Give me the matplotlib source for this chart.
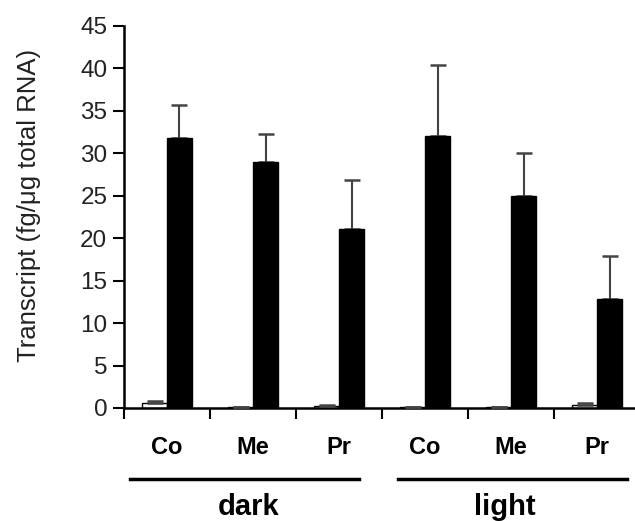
import matplotlib
matplotlib.use("Agg")
import matplotlib.pyplot as plt
import matplotlib.transforms as mtransforms
from matplotlib.lines import Line2D

plt.rcParams['font.family'] = ['Liberation Sans', 'DejaVu Sans']

categories = ["Co", "Me", "Pr", "Co", "Me", "Pr"]
groups = ["dark", "light"]
white_vals = [0.55, 0.1, 0.2, 0.1, 0.1, 0.35]
white_err = [0.25, 0.0, 0.1, 0.0, 0.0, 0.25]
black_vals = [31.8, 29.0, 21.1, 32.0, 25.0, 12.8]
black_err = [3.9, 3.3, 5.8, 8.4, 5.0, 5.1]
yticks = [0, 5, 10, 15, 20, 25, 30, 35, 40, 45]

W, H = 635, 521
fig = plt.figure(figsize=(W / 100, H / 100), dpi=100)
ax = fig.add_axes([124 / W, (H - 408) / H, (W - 124) / W, (408 - 26) / H])

x = list(range(len(categories)))
bw = 0.29
xw = [i - 0.145 for i in x]
xb = [i + 0.145 for i in x]

ax.bar(xw, white_vals, width=bw, color="white", edgecolor="black", linewidth=1.0, zorder=2)
ax.bar(xb, black_vals, width=bw, color="black", edgecolor="black", linewidth=1.0, zorder=2)
ax.errorbar(xw, white_vals, yerr=[[0] * len(x), white_err], fmt="none",
            ecolor="#444444", elinewidth=1.5, capsize=6, capthick=1.8, zorder=3)
ax.errorbar(xb, black_vals, yerr=[[0] * len(x), black_err], fmt="none",
            ecolor="#444444", elinewidth=1.5, capsize=6, capthick=1.8, zorder=1)

ax.set_ylim(0, 45)
ax.set_xlim(-0.5, 5.44)
ax.set_yticks(yticks)
ax.set_yticklabels([str(t) for t in yticks], fontsize=17.5, color="#222222")
ax.set_xticks([-0.5, 0.5, 1.5, 2.5, 3.5, 4.5])
ax.set_xticklabels([])
ax.tick_params(axis="y", direction="out", length=8, width=1.5, colors="black", pad=4)
ax.tick_params(axis="x", direction="out", length=8, width=1.5, colors="black")
for lbl in ax.get_yticklabels():
    lbl.set_color("#222222")

for s in ["top", "right"]:
    ax.spines[s].set_visible(False)
for s in ["left", "bottom"]:
    ax.spines[s].set_linewidth(1.8)

ax.set_ylabel("Transcript (fg/μg total RNA)", fontsize=18.5, color="#222222")
ax.yaxis.set_label_coords(-0.162, 0.531)

trans = mtransforms.blended_transform_factory(ax.transData, fig.transFigure)
for i, c in enumerate(categories):
    ax.text(i, (H - 454) / H, c, transform=trans, ha="center", va="baseline",
            fontsize=17, fontweight="bold")

line_spans = [(-0.43, 2.23), (2.68, 5.35)]
label_x = [0.95, 3.93]
for (a, b), g, lx in zip(line_spans, groups, label_x):
    ax.add_line(Line2D([a, b], [(H - 479) / H] * 2, transform=trans, color="black",
                       linewidth=2.5, clip_on=False))
    ax.text(lx, (H - 515) / H, g, transform=trans, ha="center", va="baseline",
            fontsize=21, fontweight="bold")

fig.savefig("out.png", dpi=100)
